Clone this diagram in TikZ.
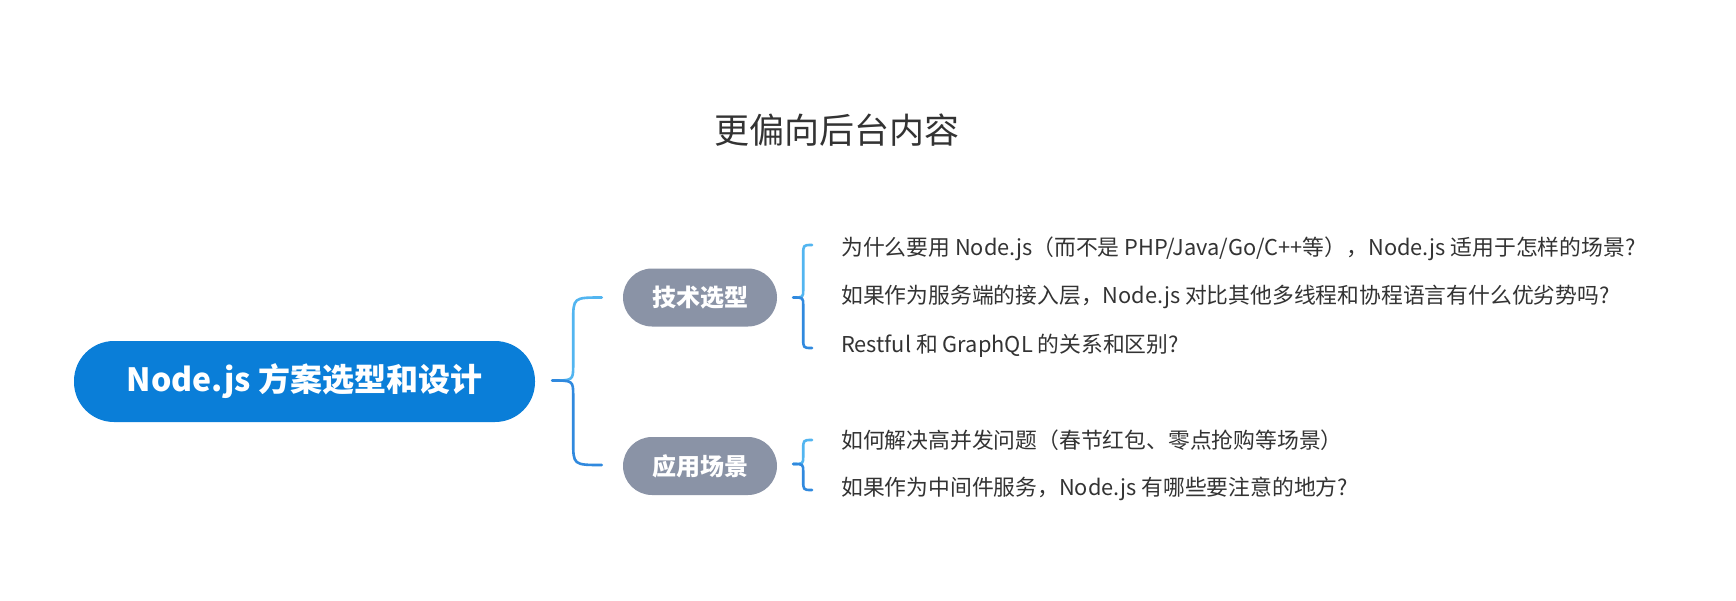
\documentclass[tikz,border=0pt]{standalone}
\usepackage{fontspec}
\setmainfont{Noto Sans CJK SC}
\usetikzlibrary{calc}
\definecolor{mainblue}{HTML}{0A7ED8}
\definecolor{subgray}{HTML}{8A93A6}
\definecolor{bracelight}{HTML}{52B5F0}
\definecolor{bracedark}{HTML}{3089DE}
\definecolor{txt}{HTML}{333333}
\newcommand\mybrace[6]{% tip, vertical-point, top end, bottom end, end radius, tip radius
  \draw[brace, draw=bracelight] (#3) .. controls (#2 |- #3) .. ($(#2 |- #3)+(0,#5)$)
    -- ($(#2)+(0,-#6)$) .. controls (#2) .. (#1);
  \draw[brace, draw=bracedark] (#1)
    .. controls (#2) .. ($(#2)+(0,#6)$)
    -- ($(#2 |- #4)+(0,-#5)$) .. controls (#2 |- #4) .. (#4);}
\begin{document}
\begin{tikzpicture}[x=1pt,y=-1pt,
  mainnode/.style={fill=mainblue, text=white, rounded corners=40pt, minimum width=461pt, minimum height=81pt, inner sep=0pt, font=\fontsize{32}{38}\selectfont\bfseries},
  subnode/.style={fill=subgray, text=white, rounded corners=29pt, minimum width=154pt, minimum height=58pt, inner sep=0pt, font=\fontsize{24}{28}\selectfont\bfseries},
  leaf/.style={anchor=west, text=txt, inner sep=0pt, font=\fontsize{21.8}{26}\selectfont},
  titlestyle/.style={text=txt, inner sep=0pt, font=\fontsize{35}{40}\selectfont},
  brace/.style={line width=2.6pt, line cap=round, line join=round}]
\fill[white] (0,0) rectangle (1736,600);
\useasboundingbox (0,0) rectangle (1736,600);

\node[titlestyle] (title) at (837,130) {更偏向后台内容};

\node[mainnode] (main) at (304.5,381.5) {Node.js 方案选型和设计};
\node[subnode] (s1) at (700,297.5) {技术选型};
\node[subnode] (s2) at (700,466) {应用场景};

\node[leaf] (l1) at (841,249) {为什么要用 Node.js（而不是 PHP/Java/Go/C++等），Node.js 适用于怎样的场景?};
\node[leaf] (l2) at (841,297) {如果作为服务端的接入层，Node.js 对比其他多线程和协程语言有什么优劣势吗?};
\node[leaf] (l3) at (841,346) {Restful 和 GraphQL 的关系和区别?};
\node[leaf] (l4) at (841,440) {如何解决高并发问题（春节红包、零点抢购等场景）};
\node[leaf] (l5) at (841,489) {如果作为中间件服务，Node.js 有哪些要注意的地方?};

% main brace
\coordinate (mt) at ($(main.east)+(17,-1)$);
\coordinate (mv) at ($(mt)+(21,0)$);
\coordinate (m1) at ($(s1.west)+(-21,0)$);
\coordinate (m2) at ($(s2.west)+(-21,-1)$);
\mybrace{mt}{mv}{m1}{m2}{24}{16}

% brace for s1
\coordinate (at) at ($(s1.east)+(16,0)$);
\coordinate (av) at ($(at)+(10,0)$);
\coordinate (a1) at ($(l1.west)+(-29,-4)$);
\coordinate (a3) at ($(l3.west)+(-29,2)$);
\mybrace{at}{av}{a1}{a3}{10}{8}

% brace for s2
\coordinate (bt) at ($(s2.east)+(16,-2)$);
\coordinate (bv) at ($(bt)+(10,0)$);
\coordinate (b4) at ($(l4.west)+(-29,0)$);
\coordinate (b5) at ($(l5.west)+(-29,1)$);
\mybrace{bt}{bv}{b4}{b5}{10}{8}
\end{tikzpicture}
\end{document}
